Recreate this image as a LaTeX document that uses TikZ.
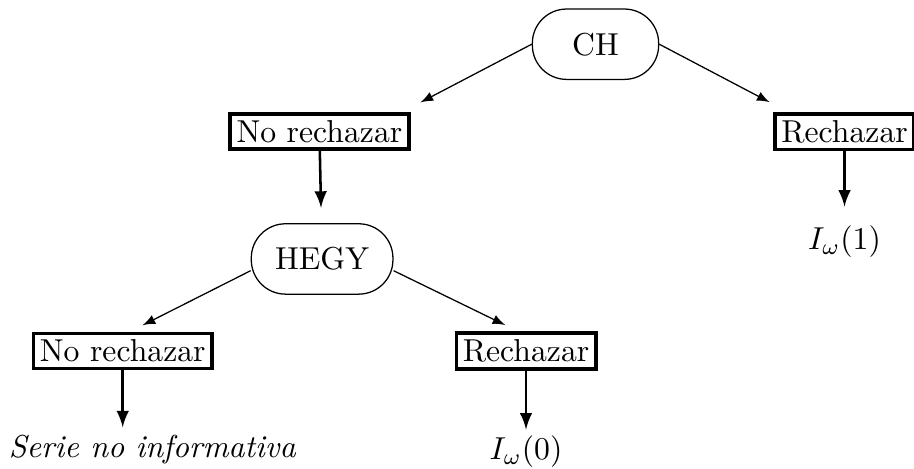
\documentclass[tikz,border=0pt]{standalone}
\usepackage{amsmath}
\usepackage{amssymb}
\usepackage{tikz}

\begin{document}
\begin{tikzpicture}[
  test/.style={draw,rectangle,rounded corners=0.38cm,minimum width=1.4cm,minimum height=0.78cm},
  res/.style={draw,very thick,rectangle,inner sep=2pt},
  arr/.style={-latex},
  varr/.style={-latex,thick}]
\useasboundingbox (0,0) rectangle (10.13,-5.19);
\node[test] (ch) at (6.60,-0.49) {CH};
\node[res] (nr1) at (3.54,-1.46) {No rechazar};
\node[res] (r1) at (9.36,-1.46) {Rechazar};
\node (i1) at (9.36,-2.68) {$I_\omega(1)$};
\node[test,minimum width=1.57cm] (hegy) at (3.57,-2.87) {HEGY};
\node[res] (nr2) at (1.36,-3.89) {No rechazar};
\node[res] (r2) at (5.83,-3.89) {Rechazar};
\node (serie) at (1.69,-4.98) {\textit{Serie no informativa}};
\node (i0) at (5.83,-5.01) {$I_\omega(0)$};
% CH
\draw[arr] (ch.west) -- ([xshift=1.12cm,yshift=0.11cm]nr1.north);
\draw[arr] (ch.east) -- ([xshift=-0.83cm,yshift=0.11cm]r1.north);
\draw[varr,shorten >=0.17cm] (nr1) -- (hegy);
\draw[varr,shorten >=0.09cm] (r1) -- (i1);
% HEGY
\draw[arr] ([yshift=-0.13cm]hegy.west) -- ([xshift=0.22cm,yshift=0.07cm]nr2.north);
\draw[arr] ([yshift=-0.13cm]hegy.east) -- ([xshift=-0.23cm,yshift=0.07cm]r2.north);
\draw[varr,shorten >=-0.04cm] (nr2) -- (nr2.south |- serie.north);
\draw[varr,shorten >=-0.05cm] (r2) -- (i0);
\end{tikzpicture}
\end{document}
